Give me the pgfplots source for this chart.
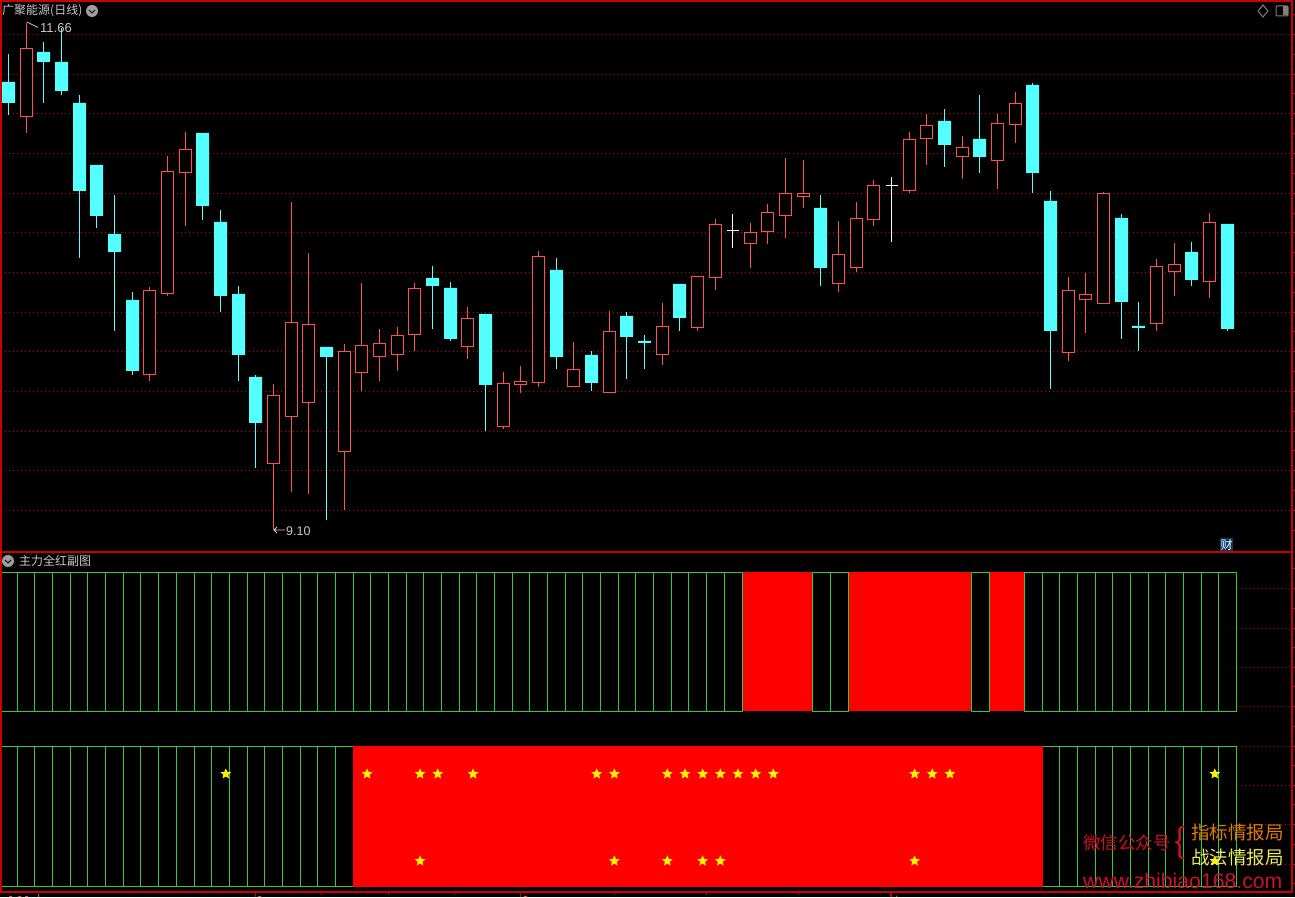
\documentclass[border=0pt]{standalone}
\usepackage{pgfplots}
\pgfplotsset{compat=1.18}
\usepackage{fontspec}
\setmainfont{Liberation Sans}
\newfontfamily\cjk{Noto Sans CJK SC}
\definecolor{frame}{HTML}{CC0000}
\definecolor{gridr}{HTML}{D00000}
\definecolor{cr}{HTML}{FF5050}
\definecolor{cc}{HTML}{54FFFF}
\definecolor{gb}{HTML}{38C838}
\definecolor{txt}{HTML}{C8C8C8}
\definecolor{wred}{HTML}{D0102A}
\definecolor{worg}{HTML}{E07A00}
\definecolor{wyel}{HTML}{EAEA60}
\definecolor{badge}{HTML}{0A3A6A}
\pgfdeclareplotmark{fstar}{%
  \pgfpathmoveto{\pgfpointpolar{90}{5.6pt}}%
  \pgfpathlineto{\pgfpointpolar{126}{2.6pt}}\pgfpathlineto{\pgfpointpolar{162}{5.6pt}}%
  \pgfpathlineto{\pgfpointpolar{198}{2.6pt}}\pgfpathlineto{\pgfpointpolar{234}{5.6pt}}%
  \pgfpathlineto{\pgfpointpolar{270}{2.6pt}}\pgfpathlineto{\pgfpointpolar{306}{5.6pt}}%
  \pgfpathlineto{\pgfpointpolar{342}{2.6pt}}\pgfpathlineto{\pgfpointpolar{18}{5.6pt}}%
  \pgfpathlineto{\pgfpointpolar{54}{2.6pt}}\pgfpathclose\pgfusepathqfill}
% candle helpers: index, high, body top, body bottom, low. The index is snapped to the pixel column.
\newcommand\snap[1]{\pgfmathsetmacro\xc{(floor(8.6+17.66*#1)-0.5)*0.0566228-0.43}}
\newcommand\rc[5]{%
  \snap{#1}\pgfmathsetmacro\xa{\xc-6*0.0566228}\pgfmathsetmacro\xb{\xc+6*0.0566228}%
  \addplot[cr,line width=1.35pt] coordinates {(\xc,#2)(\xc,#5)};
  \addplot[cr,line width=1.35pt,fill=black,line join=miter] coordinates {(\xa,#3)(\xb,#3)(\xb,#4)(\xa,#4)(\xa,#3)};
}
\newcommand\cc[5]{%
  \snap{#1}\pgfmathsetmacro\xa{\xc-6.5*0.0566228}\pgfmathsetmacro\xb{\xc+6.5*0.0566228}%
  \pgfmathsetmacro\yt{#3+0.0025}\pgfmathsetmacro\yb{#4+0.0025}%
  \addplot[cc,line width=1.2pt] coordinates {(\xc,#2)(\xc,#5)};
  \addplot[draw=none,fill=cc] coordinates {(\xa,\yt)(\xb,\yt)(\xb,\yb)(\xa,\yb)(\xa,\yt)};
}
\newcommand\wc[4]{%
  \snap{#1}\pgfmathsetmacro\xa{\xc-6*0.0566228}\pgfmathsetmacro\xb{\xc+6*0.0566228}%
  \addplot[white,line width=1.3pt] coordinates {(\xc,#2)(\xc,#4)};
  \addplot[white,line width=1.3pt] coordinates {(\xa,#3)(\xb,#3)};
}
\pgfplotsset{panel/.style={
  scale only axis,width=1291pt,xmin=-0.43,xmax=72.67,
  anchor=south west,axis line style={frame,line width=1.3pt},
  xtick=\empty,ytick pos=right,yticklabels={},
  tick style={frame,line width=1pt},major tick length=3pt,minor tick length=3pt,tick align=outside,
  ymajorgrids,major grid style={gridr,line width=1.2pt,dash pattern=on 1.3pt off 2.7pt},
  clip=true},
  strip/.style={
  scale only axis,width=1291pt,xmin=-0.43,xmax=72.67,ymin=0,ymax=1,
  anchor=south west,hide axis,clip=false},
  gcell/.style={ybar interval,draw=gb,fill=black,line width=1.3pt},
  rcell/.style={ybar interval,draw=none,fill=red}}
\begin{document}
\begin{tikzpicture}[x=1pt,y=1pt]
\useasboundingbox (0,0) rectangle (1295,897);
\clip (0,0) rectangle (1295,897);
\fill[black] (0,0) rectangle (1295,897);
% ---- price panel
\begin{axis}[panel,at={(1pt,345pt)},height=551pt,ymin=9.0175,ymax=11.7725,
  ytick={11.605,11.405,11.21,11.01,10.81,10.615,10.415,10.215,10.02,9.82,9.62,9.425,9.225},
  minor ytick={11.705,11.505,11.31,11.11,10.91,10.71,10.515,10.315,10.12,9.92,9.72,9.525,9.325,9.125}]
\cc{0}{11.505}{11.365}{11.26}{11.2}
\rc{1}{11.66}{11.535}{11.195}{11.11}
\cc{2}{11.565}{11.515}{11.465}{11.26}
\cc{3}{11.635}{11.465}{11.32}{11.3}
\cc{4}{11.3}{11.26}{10.82}{10.485}
\cc{5}{10.95}{10.95}{10.695}{10.635}
\cc{6}{10.8}{10.605}{10.515}{10.12}
\cc{7}{10.315}{10.275}{9.92}{9.9}
\rc{8}{10.34}{10.325}{9.905}{9.87}
\rc{9}{10.995}{10.92}{10.31}{10.295}
\rc{10}{11.115}{11.03}{10.915}{10.645}
\cc{11}{11.11}{11.11}{10.745}{10.675}
\cc{12}{10.725}{10.665}{10.295}{10.215}
\cc{13}{10.345}{10.305}{10.0}{9.87}
\cc{14}{9.9}{9.89}{9.66}{9.435}
\rc{15}{9.855}{9.8}{9.46}{9.125}
\rc{16}{10.765}{10.165}{9.695}{9.315}
\rc{17}{10.51}{10.155}{9.765}{9.305}
\cc{18}{10.04}{10.04}{9.99}{9.175}
\rc{19}{10.055}{10.02}{9.52}{9.225}
\rc{20}{10.36}{10.05}{9.915}{9.82}
\rc{21}{10.13}{10.06}{9.995}{9.87}
\rc{22}{10.14}{10.1}{10.005}{9.92}
\rc{23}{10.36}{10.335}{10.105}{10.02}
\cc{24}{10.445}{10.385}{10.345}{10.13}
\cc{25}{10.365}{10.335}{10.08}{10.07}
\rc{26}{10.24}{10.185}{10.045}{9.98}
\cc{27}{10.205}{10.205}{9.85}{9.62}
\rc{28}{9.915}{9.86}{9.645}{9.63}
\rc{29}{9.945}{9.87}{9.855}{9.81}
\rc{30}{10.52}{10.495}{9.865}{9.84}
\cc{31}{10.485}{10.425}{9.99}{9.93}
\rc{32}{10.065}{9.93}{9.845}{9.845}
\cc{33}{10.02}{10.0}{9.86}{9.82}
\rc{34}{10.22}{10.12}{9.815}{9.815}
\cc{35}{10.215}{10.195}{10.09}{9.88}
\cc{36}{10.1}{10.07}{10.06}{9.93}
\rc{37}{10.26}{10.145}{10.005}{9.95}
\cc{38}{10.355}{10.355}{10.185}{10.12}
\rc{39}{10.395}{10.395}{10.14}{10.12}
\rc{40}{10.68}{10.655}{10.39}{10.325}
\wc{41}{10.705}{10.625}{10.535}
\rc{42}{10.66}{10.615}{10.56}{10.435}
\rc{43}{10.755}{10.715}{10.62}{10.555}
\rc{44}{10.985}{10.81}{10.7}{10.585}
\rc{45}{10.975}{10.81}{10.795}{10.735}
\cc{46}{10.8}{10.735}{10.435}{10.345}
\rc{47}{10.67}{10.505}{10.36}{10.315}
\rc{48}{10.765}{10.685}{10.44}{10.415}
\rc{49}{10.875}{10.85}{10.68}{10.645}
\wc{50}{10.89}{10.85}{10.565}
\rc{51}{11.115}{11.08}{10.825}{10.81}
\rc{52}{11.205}{11.15}{11.085}{10.95}
\cc{53}{11.23}{11.17}{11.05}{10.94}
\rc{54}{11.095}{11.04}{10.995}{10.88}
\cc{55}{11.3}{11.08}{10.99}{10.91}
\rc{56}{11.205}{11.16}{10.975}{10.83}
\rc{57}{11.315}{11.26}{11.155}{11.06}
\cc{58}{11.36}{11.35}{10.91}{10.81}
\cc{59}{10.82}{10.77}{10.12}{9.83}
\rc{60}{10.39}{10.325}{10.015}{9.97}
\rc{61}{10.41}{10.305}{10.28}{10.11}
\rc{62}{10.815}{10.81}{10.26}{10.255}
\cc{63}{10.705}{10.685}{10.265}{10.08}
\cc{64}{10.265}{10.145}{10.135}{10.02}
\rc{65}{10.48}{10.445}{10.16}{10.12}
\rc{66}{10.56}{10.455}{10.42}{10.295}
\cc{67}{10.565}{10.515}{10.375}{10.345}
\rc{68}{10.71}{10.665}{10.37}{10.285}
\cc{69}{10.655}{10.655}{10.13}{10.12}
\end{axis}
% ---- indicator panel
\begin{axis}[panel,at={(1pt,5pt)},height=340pt,ymin=-0.037,ymax=2.384,
  ytick={0.159,0.444,0.721,0.999,1.284,1.562,1.839,2.124},
  minor ytick={0.02,0.302,0.585,0.863,1.142,1.425,1.703,1.985,2.27}]
\end{axis}
% upper strip
\begin{axis}[strip,at={(1pt,185.5pt)},height=139pt]
\addplot[rcell] coordinates {(41.558,1)(45.521,1)};
\addplot[rcell] coordinates {(47.56,1)(54.524,1)};
\addplot[rcell] coordinates {(55.544,1)(57.525,1)};
\addplot[gcell] coordinates {(-0.45,1)(0.504,1)(1.467,1)(2.486,1)(3.505,1)(4.468,1)(5.487,1)(6.507,1)(7.469,1)(8.488,1)(9.508,1)(10.527,1)(11.49,1)(12.509,1)(13.528,1)(14.491,1)(15.51,1)(16.529,1)(17.492,1)(18.511,1)(19.53,1)(20.493,1)(21.512,1)(22.532,1)(23.494,1)(24.513,1)(25.533,1)(26.495,1)(27.515,1)(28.534,1)(29.497,1)(30.516,1)(31.535,1)(32.498,1)(33.517,1)(34.536,1)(35.499,1)(36.518,1)(37.537,1)(38.5,1)(39.519,1)(40.538,1)(41.558,1)};
\addplot[gcell] coordinates {(45.521,1)(46.541,1)(47.56,1)};
\addplot[gcell] coordinates {(54.524,1)(55.544,1)};
\addplot[gcell] coordinates {(57.525,1)(58.545,1)(59.507,1)(60.526,1)(61.546,1)(62.509,1)(63.528,1)(64.547,1)(65.51,1)(66.53,1)(67.549,1)(68.511,1)(69.53,1)};
\end{axis}
% lower strip with stars
\begin{axis}[strip,at={(1pt,10.5pt)},height=140pt]
\addplot[gcell] coordinates {(-0.45,1)(0.504,1)(1.467,1)(2.486,1)(3.505,1)(4.468,1)(5.487,1)(6.507,1)(7.469,1)(8.488,1)(9.508,1)(10.527,1)(11.49,1)(12.509,1)(13.528,1)(14.491,1)(15.51,1)(16.529,1)(17.492,1)(18.511,1)(19.6,1)};
\addplot[gcell] coordinates {(58.5,1)(59.507,1)(60.526,1)(61.546,1)(62.509,1)(63.528,1)(64.547,1)(65.51,1)(66.53,1)(67.549,1)(68.511,1)(69.53,1)};
\addplot[rcell] coordinates {(19.501,1.005)(58.571,1.005)};
\addplot[only marks,mark=fstar,mark options={fill=yellow,draw=none},color=yellow] coordinates {
(12.3,0.804)(20.3,0.804)(23.3,0.804)(24.3,0.804)(26.3,0.804)(33.3,0.804)(34.3,0.804)(37.3,0.804)(38.3,0.804)(39.3,0.804)(40.3,0.804)(41.3,0.804)(42.3,0.804)(43.3,0.804)(51.3,0.804)(52.3,0.804)(53.3,0.804)(68.3,0.804)
(23.3,0.182)(34.3,0.182)(37.3,0.182)(39.3,0.182)(40.3,0.182)(51.3,0.182)(68.3,0.182)};
\end{axis}
% frame pieces over the strips, bottom axis ticks
\draw[frame,line width=1.3pt] (1,5) -- (1,345);
\draw[frame,line width=1pt] (1291.7,5) -- (1291.7,345);
\draw[frame,line width=1.2pt] (255.6,5) -- (255.6,0) (520.7,5) -- (520.7,0) (891,5) -- (891,0);
\draw[frame,line width=.8pt] (321.6,5) -- (321.6,2) (388.8,5) -- (388.8,2) (454.8,5) -- (454.8,2) (614,5) -- (614,2) (706,5) -- (706,2) (798,5) -- (798,2);
\draw[frame,line width=.8pt] (1062,897) -- (1062,895) (1097,897) -- (1097,895) (1131,897) -- (1131,895) (1166,897) -- (1166,895) (1201,897) -- (1201,895) (1236,897) -- (1236,895) (1271,897) -- (1271,895);
% tops of the date labels, cut off at the page edge in the reference
\fill[cr] (9,0) rectangle (12,1.2) (18,0) rectangle (21,1.2) (25,0) rectangle (28,1.2) (38.2,0) rectangle (39.2,3) (258,0) rectangle (261,1.2) (524,0) rectangle (527,1.2) (896,0) rectangle (897,1.5);
% ---- texts (y measured from the page bottom)
\node[anchor=west,inner sep=0,text=txt,font=\cjk\fontsize{12}{13}\selectfont] at (2,886) {广聚能源(日线)};
\fill[gray!75] (92,886) circle (6);
\draw[black,line width=1pt] (89,887) -- (92,884) -- (95,887);
\node[anchor=west,inner sep=0,text=txt,font=\fontsize{13}{14}\selectfont] at (40,869) {11.66};
\draw[txt,line width=.8pt] (27,875) -- (38,869.5);
\node[anchor=west,inner sep=0,text=txt,font=\fontsize{12.5}{14}\selectfont] at (286,366) {9.10};
\draw[txt,line width=.8pt] (285,367) -- (274,367) (277,370) -- (274,367) -- (277,364);
\fill[gray!75] (8,336) circle (6);
\draw[black,line width=1pt] (5,337) -- (8,334) -- (11,337);
\node[anchor=west,inner sep=0,text=txt,font=\cjk\fontsize{12}{13}\selectfont] at (19,336) {主力全红副图};
\draw[gray,line width=1pt] (1263,892) -- (1268,886) -- (1263,880) -- (1258,886) -- cycle;
\draw[gray,line width=1pt,rounded corners=1pt] (1276,881) rectangle (1288,891);
\fill[gray] (1283,881.5) rectangle (1287.5,890.5);
\fill[badge] (1220,346) rectangle (1233,359);
\node[text=white,inner sep=0,font=\cjk\fontsize{12}{12}\selectfont] at (1226.5,352.5) {财};
% watermark
\node[anchor=west,inner sep=0,text=wred,font=\cjk\fontsize{17.5}{18}\selectfont] at (1083,54) {微信公众号};
\node[anchor=center,inner sep=0,text=wred,font=\cjk\fontsize{34}{34}\selectfont] at (1180,54) {\{};
\node[anchor=west,inner sep=0,text=worg,font=\cjk\fontsize{18.5}{19}\selectfont] at (1191,65) {指标情报局};
\node[anchor=west,inner sep=0,text=wyel,font=\cjk\fontsize{18.5}{19}\selectfont] at (1191,40) {战法情报局};
\node[anchor=west,inner sep=0,text=wred,font=\fontsize{21.2}{22}\selectfont] at (1083,16) {www.zhibiao168.com};
\end{tikzpicture}
\end{document}
